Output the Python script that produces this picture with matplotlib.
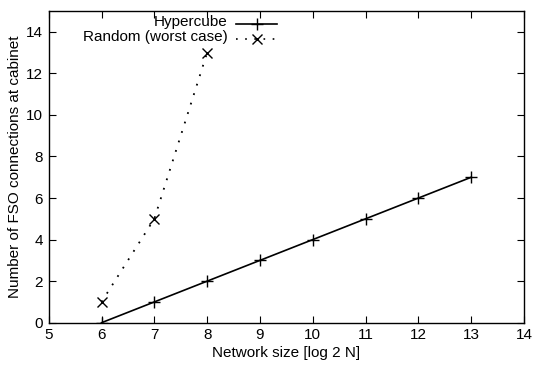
import matplotlib
matplotlib.use("Agg")
import matplotlib.pyplot as plt

plt.rcParams["font.family"] = ["Liberation Sans", "DejaVu Sans"]

# data
hyper_x = [6, 7, 8, 9, 10, 11, 12, 13]
hyper_y = [0, 1, 2, 3, 4, 5, 6, 7]
random_x = [6, 7, 8]
random_y = [1, 5, 13]

x_ticks = list(range(5, 15))
y_ticks = list(range(0, 15, 2))

FS = 11
DOTS = (0, (1, 4.5))

fig = plt.figure(figsize=(5.33, 3.67), dpi=100)
ax = fig.add_axes([0.0914, 0.1207, 0.8918, 0.8493])

ax.plot(hyper_x, hyper_y, color="black", lw=1.2, marker="+", ms=9, mew=1.0)
ax.plot(random_x, random_y, color="black", lw=1.3, ls=DOTS,
        marker="x", ms=6.5, mew=1.0)

ax.set_xlim(5, 14)
ax.set_ylim(0, 15)
ax.set_xticks(x_ticks)
ax.set_yticks(y_ticks)
ax.tick_params(direction="in", top=True, right=True, length=5, width=0.8,
               labelsize=FS, pad=4)
for s in ax.spines.values():
    s.set_linewidth(1.0)

ax.set_xlabel("Network size [log 2 N]", fontsize=FS, labelpad=3)
ax.set_ylabel("Number of FSO connections at cabinet", fontsize=FS, labelpad=3)

# gnuplot-style key: right-aligned text, sample to the right
key = [("Hypercube", "-", "+", 9), ("Random (worst case)", DOTS, "x", 6.5)]
key_y = [0.964, 0.917]
for (label, ls, mk, ms), ky in zip(key, key_y):
    ax.text(0.377, ky, label, transform=ax.transAxes, ha="right", va="center",
            fontsize=FS)
    ax.plot([0.394, 0.481], [ky - 0.006, ky - 0.006], transform=ax.transAxes,
            color="black", lw=1.2, ls=ls, clip_on=False)
    ax.plot([0.4375], [ky - 0.006], transform=ax.transAxes, color="black",
            marker=mk, ms=ms, mew=1.0, clip_on=False)

fig.savefig("out.png", dpi=100)
